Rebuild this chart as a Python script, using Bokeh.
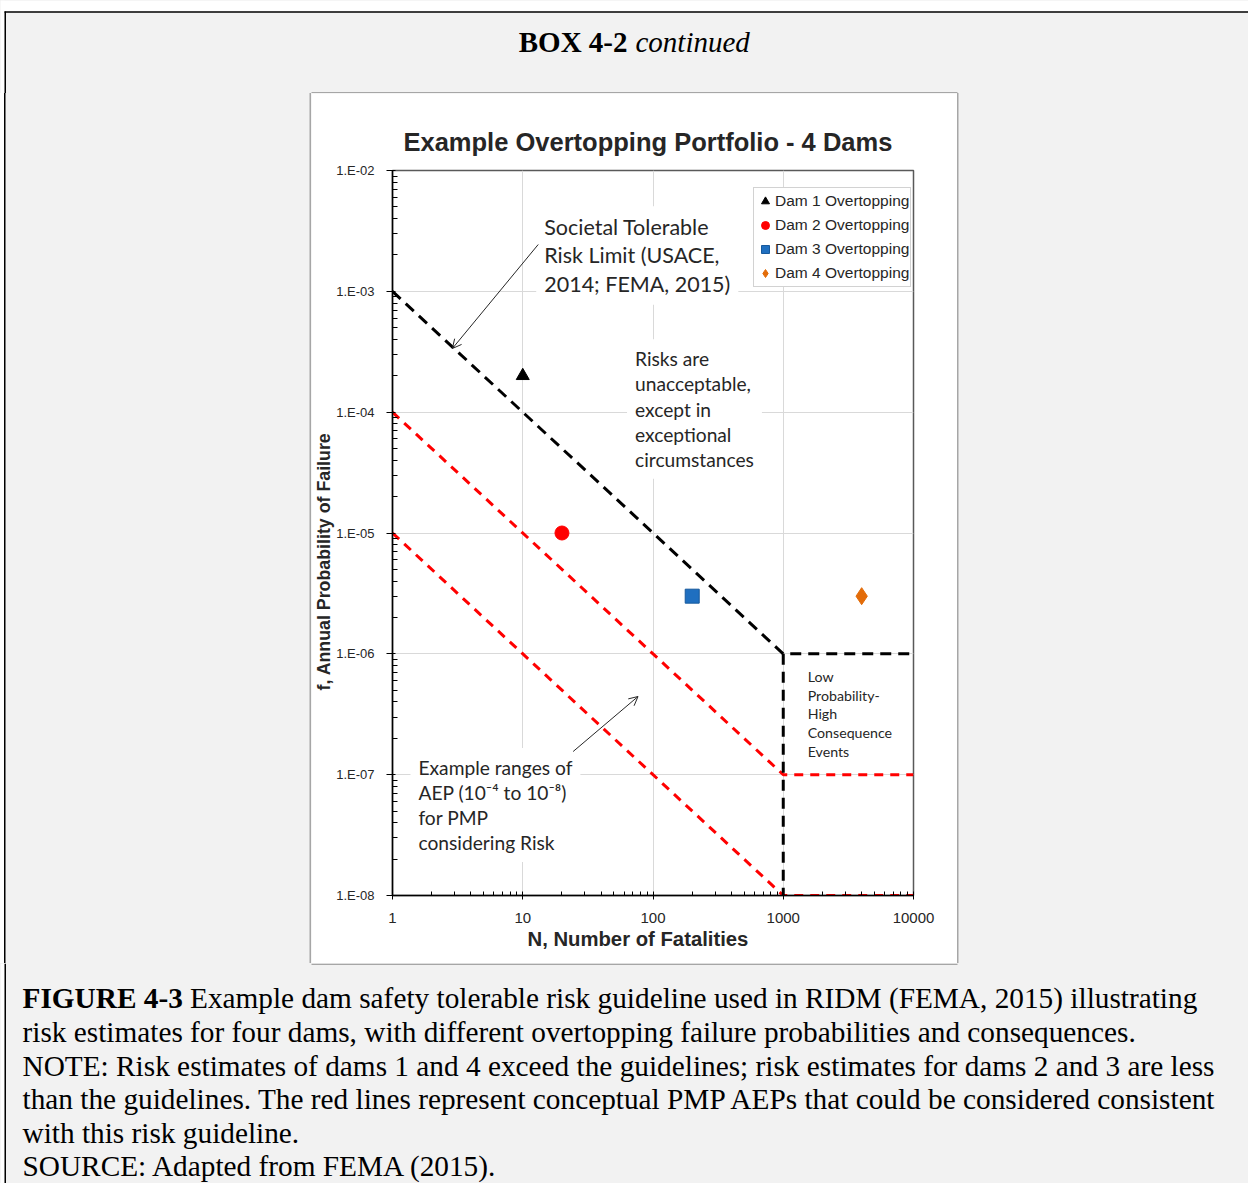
import math

from bokeh.core.properties import value
from bokeh.embed import file_html
from bokeh.layouts import column, row
from bokeh.models import (Arrow, FixedTicker, Label, Legend, LegendItem,
                          OpenHead, Range1d, Spacer, Title)
from bokeh.plotting import figure
from bokeh.resources import INLINE

# ---------------------------------------------------------------- data
x_ticks = [1, 10, 100, 1000, 10000]
x_tick_labels = ["1", "10", "100", "1000", "10000"]
y_ticks = [1e-8, 1e-7, 1e-6, 1e-5, 1e-4, 1e-3, 1e-2]
y_tick_labels = ["1.E-08", "1.E-07", "1.E-06", "1.E-05", "1.E-04", "1.E-03", "1.E-02"]

# societal tolerable risk limit (f-N line, capped at N = 1000)
limit_n = [1, 1000, 10000]
limit_f = [1e-3, 1e-6, 1e-6]
limit_cut_n = [1000, 1000]
limit_cut_f = [1e-6, 1e-8]

# example ranges of PMP annual exceedance probability
pmp_upper_n = [1, 1000, 10000]
pmp_upper_f = [1e-4, 1e-7, 1e-7]
pmp_lower_n = [1, 1000, 10000]
pmp_lower_f = [1e-5, 1e-8, 1e-8]

dam_labels = ["Dam 1 Overtopping", "Dam 2 Overtopping",
              "Dam 3 Overtopping", "Dam 4 Overtopping"]
dam_n = [10, 20, 200, 4000]
dam_f = [2e-4, 1e-5, 3e-6, 3e-6]

chart_title = "Example Overtopping Portfolio - 4 Dams"
x_title = "N, Number of Fatalities"
y_title = "f, Annual Probability of Failure"
limit_note = "Societal Tolerable\nRisk Limit (USACE,\n2014; FEMA, 2015)"
risk_note = "Risks are\nunacceptable,\nexcept in\nexceptional\ncircumstances"
lphc_note = "Low\nProbability-\nHigh\nConsequence\nEvents"
pmp_note = "Example ranges of\nAEP (10\u207b\u2074 to 10\u207b\u2078)\nfor PMP\nconsidering Risk"

box_bold = "BOX 4-2"
box_italic = "continued"
caption_head = "FIGURE 4-3"
caption_lines = [
    "Example dam safety tolerable risk guideline used in RIDM (FEMA, 2015) illustrating",
    "risk estimates for four dams, with different overtopping failure probabilities and consequences.",
    "NOTE: Risk estimates of dams 1 and 4 exceed the guidelines; risk estimates for dams 2 and 3 are less",
    "than the guidelines. The red lines represent conceptual PMP AEPs that could be considered consistent",
    "with this risk guideline.",
    "SOURCE: Adapted from FEMA (2015).",
]

# ---------------------------------------------------------------- geometry
PAGE_W, PAGE_H = 1248, 1183
PAGE_BG = "#f2f2f2"
PANEL_L, PANEL_T, PANEL_R, PANEL_B = 311, 93, 957, 963
FRAME_L, FRAME_T, FRAME_R, FRAME_B = 391, 170, 913, 895
PANEL_EDGE = "#a6a6a6"
INK = "#262626"
NOTE_PAD = 8


def n_at(px):
    """page x pixel -> N on the log axis"""
    return 10 ** (4 * (px - FRAME_L) / (FRAME_R - FRAME_L))


def f_at(py):
    """page y pixel -> f on the log axis"""
    return 10 ** (-2 - 6 * (py - FRAME_T) / (FRAME_B - FRAME_T))


# ---------------------------------------------------------------- chart
p = figure(width=PANEL_R - PANEL_L, height=PANEL_B - PANEL_T,
           x_axis_type="log", y_axis_type="log",
           x_range=Range1d(1, 10000), y_range=Range1d(1e-8, 1e-2),
           output_backend="svg", toolbar_location=None, title=chart_title,
           min_border_left=FRAME_L - PANEL_L, min_border_right=PANEL_R - FRAME_R,
           min_border_top=FRAME_T - PANEL_T, min_border_bottom=PANEL_B - FRAME_B)
p.background_fill_color = "white"
p.border_fill_color = "white"
p.outline_line_color = "#595959"
p.outline_line_width = 1.5

p.title.text_font = "Liberation Sans"
p.title.text_font_style = "bold"
p.title.text_font_size = "25.5px"
p.title.text_color = INK
p.title.align = "left"
p.title.offset = 11
p.title.standoff = 30

x_minor = [m * 10 ** d for d in range(0, 4) for m in range(2, 10)]
y_minor = [m * 10.0 ** d for d in range(-8, -2) for m in range(2, 10)]
p.xaxis.ticker = FixedTicker(ticks=x_ticks, minor_ticks=x_minor)
p.yaxis.ticker = FixedTicker(ticks=y_ticks, minor_ticks=y_minor)
p.xaxis.major_label_overrides = dict(zip(x_ticks, x_tick_labels))
p.yaxis.major_label_overrides = dict(zip(y_ticks, y_tick_labels))

for ax in (p.xaxis, p.yaxis):
    ax.axis_line_color = "black"
    ax.axis_line_width = 1.5
    ax.major_tick_line_color = "black"
    ax.minor_tick_line_color = "black"
    ax.major_label_text_font = "Liberation Sans"
    ax.major_label_text_color = INK
    ax.minor_tick_out = 0
p.xaxis.major_label_text_font_size = "15px"
p.xaxis.major_tick_in = 4
p.xaxis.major_tick_out = 4
p.xaxis.minor_tick_in = 4
p.xaxis.major_label_standoff = 13
p.yaxis.major_label_text_font_size = "13px"
p.yaxis.major_tick_in = 3
p.yaxis.major_tick_out = 6
p.yaxis.minor_tick_in = 5
p.yaxis.major_label_standoff = 12

p.add_layout(Title(text=x_title, align="left", offset=526 - FRAME_L, standoff=0,
                   text_font="Liberation Sans", text_font_style="bold",
                   text_font_size="20.3px", text_color=INK), "below")
p.add_layout(Title(text=y_title, align="left", offset=FRAME_B - 690, standoff=0,
                   text_font="Liberation Sans", text_font_style="bold",
                   text_font_size="17.8px", text_color=INK), "left")

p.grid.grid_line_color = "#d9d9d9"
p.grid.grid_line_width = 1

# risk guideline lines
p.line(pmp_upper_n, pmp_upper_f, line_color="#ff0000", line_width=3, line_dash="9 7")
p.line(pmp_lower_n, pmp_lower_f, line_color="#ff0000", line_width=3, line_dash="9 7")
p.line(limit_n, limit_f, line_color="black", line_width=3, line_dash="11 7")
p.line(limit_cut_n, limit_cut_f, line_color="black", line_width=3, line_dash="11 7")

# dam risk estimates
dam_styles = [
    dict(marker="triangle", size=13, fill_color="black", line_color="black"),
    dict(marker="circle", size=14, fill_color="#ff0000", line_color="#ff0000"),
    dict(marker="square", size=14, fill_color="#1f6fc0", line_color="#17599c"),
    dict(marker="diamond", size=17, fill_color="#e36c09", line_color="#e36c09"),
]
items = []
for label, n, f, style in zip(dam_labels, dam_n, dam_f, dam_styles):
    r = p.scatter([n], [f], **style)
    items.append(LegendItem(label=label, renderers=[r]))

legend = Legend(items=items, location=(752 - FRAME_L, FRAME_B - 287),
                margin=0, padding=1, spacing=0,
                glyph_width=20, glyph_height=24, label_height=24,
                label_standoff=0, label_text_font="Liberation Sans",
                label_text_font_size="15.5px", label_text_color=INK,
                border_line_color="#a6a6a6", border_line_width=1,
                background_fill_color="white", background_fill_alpha=1)
p.add_layout(legend)


def note(px, py, text, size, spacing):
    px_size = float(size.rstrip("px"))
    p.add_layout(Label(x=n_at(px - NOTE_PAD), y=f_at(py), text=text,
                       text_font="Lato", text_font_size=size,
                       text_line_height=spacing / (1.2 * px_size), text_color=INK,
                       text_align="left", text_baseline="middle",
                       background_fill_color="white", padding=NOTE_PAD))


note(543, 255, limit_note, "21.5px", 28)
note(634, 408.5, risk_note, "19.2px", 25.2)
note(807, 713.5, lphc_note, "14.2px", 18.75)
note(417, 804.5, pmp_note, "19.2px", 25)

p.add_layout(Arrow(x_start=n_at(537), y_start=f_at(244), x_end=n_at(451), y_end=f_at(348),
                   line_color=INK, line_width=1,
                   end=OpenHead(size=9, line_color=INK, line_width=1)))
p.add_layout(Arrow(x_start=n_at(572), y_start=f_at(751), x_end=n_at(637), y_end=f_at(696),
                   line_color=INK, line_width=1,
                   end=OpenHead(size=9, line_color=INK, line_width=1)))


# ---------------------------------------------------------------- page around the chart
def sheet(w, h):
    s = figure(width=w, height=h, x_range=Range1d(0, w), y_range=Range1d(h, 0),
               x_axis_type=None, y_axis_type=None, title=None,
               output_backend="svg", toolbar_location=None, min_border=0)
    s.background_fill_color = PAGE_BG
    s.border_fill_color = PAGE_BG
    s.outline_line_color = None
    return s


top = sheet(PAGE_W, PANEL_T)
top.quad(left=[0, 0], right=[PAGE_W, 4], top=[0, 0], bottom=[11, PANEL_T],
         fill_color="white", line_color=None)
top.segment(x0=[4], y0=[11.5], x1=[PAGE_W], y1=[11.5], line_color="black", line_width=1.5)
top.segment(x0=[4.75], y0=[11], x1=[4.75], y1=[PANEL_T], line_color="black", line_width=1.5)
top.segment(x0=[PANEL_L], y0=[PANEL_T - 0.75], x1=[PANEL_R], y1=[PANEL_T - 0.75],
            line_color=PANEL_EDGE, line_width=1.5)
top.text(x=[627], y=[41], text=[box_bold], text_font=value("Liberation Serif"),
         text_font_style="bold", text_font_size="29px", text_color="black",
         text_align="right", text_baseline="middle")
top.text(x=[635], y=[41], text=[box_italic], text_font=value("Liberation Serif"),
         text_font_style="italic", text_font_size="29px", text_color="black",
         text_align="left", text_baseline="middle")

mid_h = PANEL_B - PANEL_T
left = Spacer(width=PANEL_L, height=mid_h, margin=0,
              styles={"background-color": PAGE_BG,
                      "box-shadow": "inset 4px 0 0 #ffffff, inset 5.5px 0 0 #000000, "
                                    "inset -1.5px 0 0 " + PANEL_EDGE})
right = Spacer(width=PAGE_W - PANEL_R, height=mid_h, margin=0,
               styles={"background-color": PAGE_BG,
                       "box-shadow": "inset 1.5px 0 0 " + PANEL_EDGE})

bottom = sheet(PAGE_W, PAGE_H - PANEL_B)
bh = PAGE_H - PANEL_B
bottom.quad(left=[0], right=[4], top=[0], bottom=[bh], fill_color="white", line_color=None)
bottom.segment(x0=[4.75], y0=[0], x1=[4.75], y1=[bh], line_color="black", line_width=1.5)
bottom.segment(x0=[PANEL_L], y0=[0.75], x1=[PANEL_R], y1=[0.75], line_color=PANEL_EDGE, line_width=1.5)

cap_y = [997, 1031, 1065, 1098, 1132, 1165]
bottom.text(x=[22], y=[cap_y[0] - PANEL_B], text=[caption_head],
            text_font=value("Liberation Serif"), text_font_style="bold",
            text_font_size="29.3px", text_color="black",
            text_align="left", text_baseline="middle")
bottom.text(x=[189.5] + [22] * (len(caption_lines) - 1),
            y=[y - PANEL_B for y in cap_y], text=caption_lines,
            text_font=value("Liberation Serif"), text_font_size="29.3px",
            text_color="black", text_align="left", text_baseline="middle")

page = column(top, row(left, p, right, spacing=0), bottom, spacing=0)
page.styles = {"background-color": PAGE_BG}

with open("out.html", "w") as fh:
    fh.write(file_html(page, INLINE, title="Example Overtopping Portfolio"))
